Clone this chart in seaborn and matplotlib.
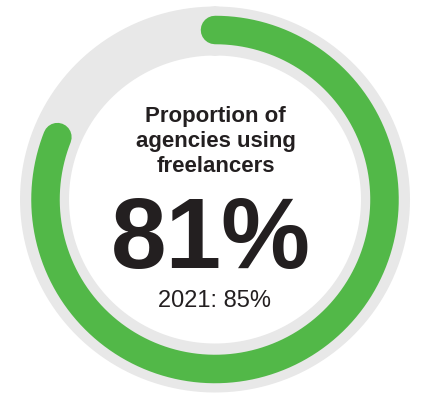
import numpy as np
import pandas as pd
import matplotlib
matplotlib.use("Agg")
import matplotlib.pyplot as plt
import seaborn as sns

# Values shown on the gauge
share_now = 81          # % of agencies using freelancers (current)
share_prev = 85         # 2021 comparison value
prev_year = "2021"
title_lines = ["Proportion of", "agencies using", "freelancers"]

GREEN = "#52b848"
TRACK = "#e8e8e8"
INK = "#231f20"

sns.set_theme(style="white")
plt.rcParams["font.family"] = ["Liberation Sans", "DejaVu Sans"]

fig = plt.figure(figsize=(4.23, 3.93), dpi=100)
ax = fig.add_axes([0, 0, 1, 1])

cx, cy = 215.0, 199.5
track_rx, track_ry, w_track = 170.5, 168.5, 49.0   # pixels
bar_r, w_bar = 169.5, 28.5
px2pt = 72.0 / fig.dpi


def ring_frame(fraction, rx, ry, n=720):
    # angle measured clockwise from 12 o'clock
    t = np.linspace(0.0, 2 * np.pi * fraction, n)
    return pd.DataFrame({"x": cx + rx * np.sin(t),
                         "y": cy - ry * np.cos(t)})


track = ring_frame(1.0, track_rx, track_ry)
bar = ring_frame(share_now / 100.0, bar_r, bar_r)

sns.lineplot(data=track, x="x", y="y", sort=False, estimator=None,
             color=TRACK, linewidth=w_track * px2pt, ax=ax)
sns.lineplot(data=bar, x="x", y="y", sort=False, estimator=None,
             color=GREEN, linewidth=w_bar * px2pt, ax=ax,
             solid_capstyle="round")

ax.set_xlim(0, 423)
ax.set_ylim(393, 0)
ax.axis("off")

for line, base in zip(title_lines, [122, 147, 172]):
    ax.text(215.5, base, line, ha="center", va="baseline",
            fontsize=16, fontweight="bold", color=INK)

ax.text(211, 268, f"{share_now}%", ha="center", va="baseline",
        fontsize=72, fontweight="bold", color=INK)
ax.text(214.5, 307, f"{prev_year}: {share_prev}%", ha="center",
        va="baseline", fontsize=17, color=INK)

fig.savefig("out.png", dpi=100, facecolor="white")
